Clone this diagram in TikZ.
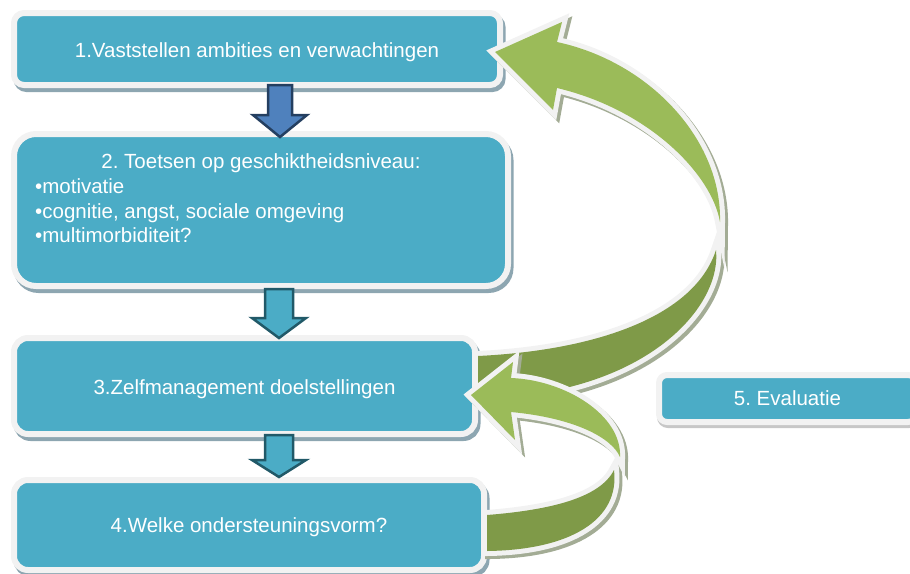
\documentclass[tikz,border=0pt]{standalone}
\usepackage{fontspec}
\setmainfont{Liberation Sans}
\usetikzlibrary{calc}
\frenchspacing

\definecolor{boxfill}{HTML}{4BACC6}
\definecolor{boxrim}{HTML}{F2F2F2}
\definecolor{boxshade}{HTML}{8DA6B1}
\definecolor{leafgreen}{HTML}{9BBB59}
\definecolor{olivegreen}{HTML}{7F9A48}
\definecolor{ribbonshade}{HTML}{A3AC95}
\definecolor{navyfill}{HTML}{4F81BD}
\definecolor{navyline}{HTML}{243F60}
\definecolor{tealline}{HTML}{215968}

% text set on a baseline lowered by #1 below the node centre
\newcommand\onbase[2]{\raisebox{-#1}[0pt][0pt]{#2}}

% outlines of the two curved return arrows (back half and front half)
\def\bigback{(716,250) .. controls (722,310) and (640,397) .. (478,398) -- (478,356) .. controls (600,350) and (695,315) .. (716,250) -- cycle}
\def\bigfront{(557,42) .. controls (650,62) and (722,140) .. (720,222) .. controls (712,175) and (650,110) .. (557,88) -- (553,110) -- (bigtip) -- (562,22) -- cycle}
\def\smallback{(614,470) .. controls (620,520) and (570,550) .. (487,551) -- (487,515) .. controls (550,510) and (600,498) .. (614,470) -- cycle}
\def\smallfront{(511,378) .. controls (565,380) and (622,415) .. (620,457) .. controls (612,438) and (575,418) .. (511,412) -- (515,440) -- (smalltip) -- (513,362) -- cycle}

\begin{document}
\begin{tikzpicture}[x=1pt,y=-1pt,
  stage/.style={rectangle, rounded corners=#1, fill=boxfill, draw=boxrim,
    line width=6pt, text=white, inner sep=0pt, outer sep=0pt,
    font=\fontsize{20.5}{24.6}\selectfont,
    preaction={draw=boxshade, fill=boxshade, line width=6pt,
      transform canvas={shift={(2.5pt,-4pt)}}}},
  softstage/.style={rectangle, rounded corners=#1, fill=boxfill, draw=boxrim,
    line width=6pt, text=white, inner sep=0pt, outer sep=0pt,
    font=\fontsize{20.5}{24.6}\selectfont,
    preaction={draw=black!22, fill=black!22, line width=6pt,
      transform canvas={shift={(1pt,-3pt)}}}},
  txt/.style={text=white, inner sep=0pt, font=\fontsize{20.5}{24.6}\selectfont},
  navyarrow/.style={fill=navyfill, draw=navyline, line width=2.5pt},
  tealarrow/.style={fill=boxfill, draw=tealline, line width=2.5pt},
  rim/.style={draw=boxrim, line width=10pt},
  rimshade/.style={fill=ribbonshade, draw=ribbonshade, line width=10pt}]

\useasboundingbox (0,0) rectangle (910,573);

% stages
\node[stage=10pt, minimum width=486pt, minimum height=72pt] (b1) at (257,49)
  {\onbase{8.5pt}{1.Vaststellen ambities en verwachtingen}};
\node[stage=22pt, minimum width=494pt, minimum height=152pt] (b2) at (261,210) {};
\node[txt, anchor=base] (b2title) at (261,168) {2. Toetsen op geschiktheidsniveau:};
\node[txt, anchor=base west] (b2a) at (35,193) {•motivatie};
\node[txt, anchor=base west] (b2b) at (35,218) {•cognitie, angst, sociale omgeving};
\node[txt, anchor=base west] (b2c) at (35,242) {•multimorbiditeit?};
\node[stage=14pt, minimum width=461pt, minimum height=96pt] (b3) at (244.5,386)
  {\onbase{8.5pt}{3.Zelfmanagement doelstellingen}};
\node[stage=14pt, minimum width=470pt, minimum height=90pt] (b4) at (249,525)
  {\onbase{7pt}{4.Welke ondersteuningsvorm?}};
\node[softstage=8pt, minimum width=257pt, minimum height=47pt] (b5) at (787.5,398.5)
  {\onbase{7pt}{5. Evaluatie}};

% block arrows between the stages
\coordinate (d1) at ([xshift=11pt]b1.south);
\draw[navyarrow] (d1) -- ++(24,0) -- ++(0,30) -- ++(15,0) -- ++(-27,22)
  -- ++(-27,-22) -- ++(15,0) -- cycle;
\coordinate (d2) at ([shift={(4,3)}]b2.south);
\draw[tealarrow] (d2) -- ++(28,0) -- ++(0,29) -- ++(13,0) -- ++(-27,20)
  -- ++(-27,-20) -- ++(13,0) -- cycle;
\coordinate (d3) at ([shift={(20.5,1)}]b3.south);
\draw[tealarrow] (d3) -- ++(28,0) -- ++(0,25) -- ++(13,0) -- ++(-27,17)
  -- ++(-27,-17) -- ++(13,0) -- cycle;

% tips of the return arrows
\coordinate (bigtip) at ([shift={(-5,3)}]b1.east);
\coordinate (smalltip) at ([shift={(-4,9)}]b3.east);

% large return arrow: stage 3 back to stage 1
\begin{scope}[transform canvas={shift={(3pt,-3pt)}}]
  \path[rimshade] \bigback;
  \path[rimshade] \bigfront;
\end{scope}
\path[rim] \bigback;
\fill[olivegreen] \bigback;
\path[rim] \bigfront;
\fill[leafgreen] \bigfront;

% small return arrow: stage 4 back to stage 3
\begin{scope}[transform canvas={shift={(3pt,-3pt)}}]
  \path[rimshade] \smallback;
  \path[rimshade] \smallfront;
\end{scope}
\path[rim] \smallback;
\fill[olivegreen] \smallback;
\path[rim] \smallfront;
\fill[leafgreen] \smallfront;
\end{tikzpicture}
\end{document}
